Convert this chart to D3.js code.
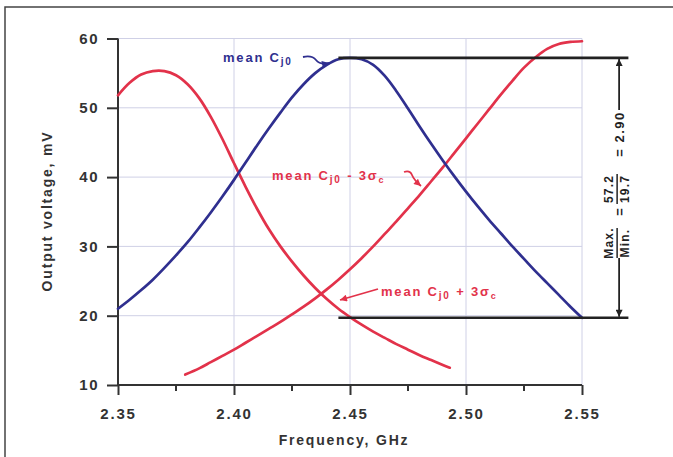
<!DOCTYPE html>
<html><head><meta charset="utf-8">
<script src="https://cdn.jsdelivr.net/npm/d3@7"></script>
<style>
html,body{margin:0;padding:0;background:#fff;}
svg{display:block;}
text{font-family:"Liberation Sans",Arial,Helvetica,sans-serif;font-weight:bold;}
</style></head>
<body>
<svg id="chart" width="673" height="457"></svg>
<script>
// ---- data ----
const xTicks = [2.35, 2.40, 2.45, 2.50, 2.55];
const xMinorTicks = [2.375, 2.425, 2.475, 2.525];
const yTicks = [10, 20, 30, 40, 50, 60];
const xTickLabels = ["2.35", "2.40", "2.45", "2.50", "2.55"];
const yTickLabels = ["10", "20", "30", "40", "50", "60"];

const meanFreq = [2.350,2.355,2.360,2.365,2.370,2.375,2.380,2.385,2.390,2.395,2.400,2.405,2.410,2.415,2.420,2.425,2.430,2.435,2.440,2.445,2.450,2.455,2.460,2.465,2.470,2.475,2.480,2.485,2.490,2.495,2.500,2.505,2.510,2.515,2.520,2.525,2.530,2.535,2.540,2.545,2.550];
const meanVolt = [21.0,22.3,23.7,25.2,26.9,28.7,30.6,32.7,34.9,37.2,39.6,42.1,44.6,47.0,49.3,51.5,53.4,55.0,56.2,57.0,57.2,57.0,56.2,54.6,52.4,49.9,47.3,44.8,42.4,40.1,37.9,35.8,33.8,31.9,30.0,28.2,26.4,24.7,23.0,21.3,19.7];

const plusFreq = [2.350,2.355,2.360,2.365,2.370,2.375,2.380,2.385,2.390,2.395,2.400,2.405,2.410,2.415,2.420,2.425,2.430,2.435,2.440,2.445,2.450,2.455,2.460,2.465,2.470,2.475,2.480,2.485,2.490,2.493];
const plusVolt = [51.8,53.6,54.8,55.3,55.3,54.7,53.4,51.4,48.7,45.5,42.0,38.6,35.4,32.5,30.0,27.8,25.8,24.0,22.4,21.0,19.8,18.7,17.7,16.8,15.9,15.1,14.3,13.6,12.9,12.5];

const minusFreq = [2.379,2.385,2.390,2.395,2.400,2.405,2.410,2.415,2.420,2.425,2.430,2.435,2.440,2.445,2.450,2.455,2.460,2.465,2.470,2.475,2.480,2.485,2.490,2.495,2.500,2.505,2.510,2.515,2.520,2.525,2.530,2.535,2.540,2.545,2.550];
const minusVolt = [11.5,12.4,13.3,14.2,15.1,16.1,17.1,18.1,19.1,20.2,21.3,22.5,23.8,25.2,26.7,28.3,30.0,31.8,33.6,35.5,37.4,39.4,41.4,43.5,45.6,47.7,49.8,51.9,53.9,55.8,57.3,58.5,59.2,59.5,59.6];

const maxValue = 57.2, minValue = 19.7, ratioText = "2.90";
const bracketFreq = [2.445, 2.57];
const arrowFreq = 2.566;

// ---- layout ----
const svg = d3.select("#chart");
const x = d3.scaleLinear().domain([2.35, 2.55]).range([118, 582]);
const y = d3.scaleLinear().domain([10, 60]).range([385, 38.5]);

const BLUE = "#2f2f8f", RED = "#e2324a", AXIS = "#333";

// frame
svg.append("rect").attr("x", 5).attr("y", 7).attr("width", 720).attr("height", 520)
  .attr("fill", "none").attr("stroke", "#444").attr("stroke-width", 1.5);

// defs
const defs = svg.append("defs");
function marker(id, color, w, h) {
  defs.append("marker").attr("id", id).attr("viewBox", "0 0 10 10")
    .attr("refX", 10).attr("refY", 5).attr("markerWidth", w).attr("markerHeight", h)
    .attr("markerUnits", "userSpaceOnUse").attr("orient", "auto")
    .append("path").attr("d", "M0,0 L10,5 L0,10 z").attr("fill", color);
}
marker("arBlue", BLUE, 8, 7);
marker("arRed", RED, 8, 7);
marker("arBlack", "#222", 9, 7);

// grid
const grid = svg.append("g").attr("stroke", "#cfd0e6").attr("stroke-width", 1);
grid.selectAll("line.v").data(xTicks.slice(1)).join("line")
  .attr("x1", d => x(d)).attr("x2", d => x(d)).attr("y1", y(10)).attr("y2", y(60));
grid.selectAll("line.h").data(yTicks.slice(1)).join("line")
  .attr("x1", x(2.35)).attr("x2", x(2.55)).attr("y1", d => y(d)).attr("y2", d => y(d));

// axes
const xAxis = d3.axisBottom(x).tickValues(xTicks).tickFormat((d, i) => xTickLabels[i]).tickSize(10).tickPadding(13);
const gx = svg.append("g").attr("transform", `translate(0,${y(10)})`).call(xAxis);
gx.select(".domain").attr("stroke", AXIS).attr("stroke-width", 2).attr("d", `M${x(2.35)},0H${x(2.55)}`);
gx.selectAll(".tick line").attr("stroke", AXIS).attr("stroke-width", 2);
gx.selectAll(".tick text").attr("fill", "#333").style("font-size", "15px").style("letter-spacing", "1.8px")
  .style("font-family", '"Liberation Sans",Arial,sans-serif').style("font-weight", "bold");
gx.selectAll("line.minor").data(xMinorTicks).join("line").attr("class", "minor")
  .attr("x1", d => x(d)).attr("x2", d => x(d)).attr("y1", 0).attr("y2", 6)
  .attr("stroke", AXIS).attr("stroke-width", 2);

const yAxis = d3.axisLeft(y).tickValues(yTicks).tickFormat((d, i) => yTickLabels[i]).tickSize(11).tickPadding(8);
const gy = svg.append("g").attr("transform", `translate(${x(2.35)},0)`).call(yAxis);
gy.select(".domain").attr("stroke", AXIS).attr("stroke-width", 2).attr("d", `M0,${y(60)}V${y(10)}`);
gy.selectAll(".tick line").attr("stroke", AXIS).attr("stroke-width", 2);
gy.selectAll(".tick text").attr("fill", "#333").style("font-size", "15px").style("letter-spacing", "1.5px")
  .style("font-family", '"Liberation Sans",Arial,sans-serif').style("font-weight", "bold");

// axis titles
svg.append("text").attr("x", 344).attr("y", 445).attr("text-anchor", "middle")
  .attr("fill", "#333").style("font-size", "14px").style("letter-spacing", "1.8px").text("Frequency, GHz");
svg.append("text").attr("transform", "translate(52,211) rotate(-90)").attr("text-anchor", "middle")
  .attr("fill", "#333").style("font-size", "14px").style("letter-spacing", "1.8px").text("Output voltage, mV");

// curves
const line = d3.line().x(d => x(d[0])).y(d => y(d[1])).curve(d3.curveCatmullRom.alpha(0.5));
function drawCurve(fs, vs, color) {
  svg.append("path").datum(d3.zip(fs, vs)).attr("d", line)
    .attr("fill", "none").attr("stroke", color).attr("stroke-width", 2.7).attr("stroke-linecap", "round");
}
drawCurve(plusFreq, plusVolt, RED);
drawCurve(minusFreq, minusVolt, RED);
drawCurve(meanFreq, meanVolt, BLUE);

// max/min bracket
const br = svg.append("g").attr("stroke", "#222").attr("stroke-width", 2.6);
[maxValue, minValue].forEach(v => {
  br.append("line").attr("x1", x(bracketFreq[0])).attr("x2", x(bracketFreq[1]))
    .attr("y1", y(v)).attr("y2", y(v));
});
const ax = x(arrowFreq);
svg.append("line").attr("x1", ax).attr("x2", ax).attr("y1", 110).attr("y2", y(maxValue) + 1)
  .attr("stroke", "#222").attr("stroke-width", 1.8).attr("marker-end", "url(#arBlack)");
svg.append("line").attr("x1", ax).attr("x2", ax).attr("y1", 258).attr("y2", y(minValue) - 1)
  .attr("stroke", "#222").attr("stroke-width", 1.8).attr("marker-end", "url(#arBlack)");

// rotated ratio text
const rg = svg.append("g").attr("transform", `translate(${ax - 2},184) rotate(-90)`).attr("fill", "#222");
function frac(u, top, bot) {
  rg.append("text").attr("x", u).attr("y", -4).attr("text-anchor", "middle")
    .style("font-size", "12px").style("letter-spacing", "1.2px").text(top);
  rg.append("text").attr("x", u).attr("y", 12).attr("text-anchor", "middle")
    .style("font-size", "12px").style("letter-spacing", "1.2px").text(bot);
  rg.append("line").attr("x1", u - 15).attr("x2", u + 15).attr("y1", 0).attr("y2", 0)
    .attr("stroke", "#222").attr("stroke-width", 1.5);
}
frac(-59, "Max.", "Min.");
rg.append("text").attr("x", -28).attr("y", 6.5).attr("text-anchor", "middle").style("font-size", "13px").text("=");
frac(-5, String(maxValue), String(minValue));
rg.append("text").attr("x", 50).attr("y", 6.5).attr("text-anchor", "middle")
  .style("font-size", "13px").style("letter-spacing", "1.5px").text("= " + ratioText);

// curve labels
function label(xp, yp, color, sub) {
  const t = svg.append("text").attr("x", xp).attr("y", yp).attr("fill", color)
    .style("font-size", "13px").style("letter-spacing", "1.8px");
  t.append("tspan").text("mean C");
  t.append("tspan").attr("dy", 3).style("font-size", "10px").text("j0");
  if (sub) {
    t.append("tspan").attr("dy", -3).text(sub);
    t.append("tspan").text("σ");
    t.append("tspan").attr("dy", 3).style("font-size", "9px").text("c");
  }
}
label(223, 62, BLUE, null);
label(272, 180, RED, " - 3");
label(381, 296, RED, " + 3");

svg.append("path").attr("d", "M303,57 Q312,55 316,60 T329,63")
  .attr("fill", "none").attr("stroke", BLUE).attr("stroke-width", 1.8).attr("marker-end", "url(#arBlue)");
svg.append("path").attr("d", "M404,172 Q410,170 412,175 T421,186")
  .attr("fill", "none").attr("stroke", RED).attr("stroke-width", 1.8).attr("marker-end", "url(#arRed)");
svg.append("path").attr("d", "M378,289 L340,300")
  .attr("fill", "none").attr("stroke", RED).attr("stroke-width", 1.8).attr("marker-end", "url(#arRed)");
</script>
</body></html>
